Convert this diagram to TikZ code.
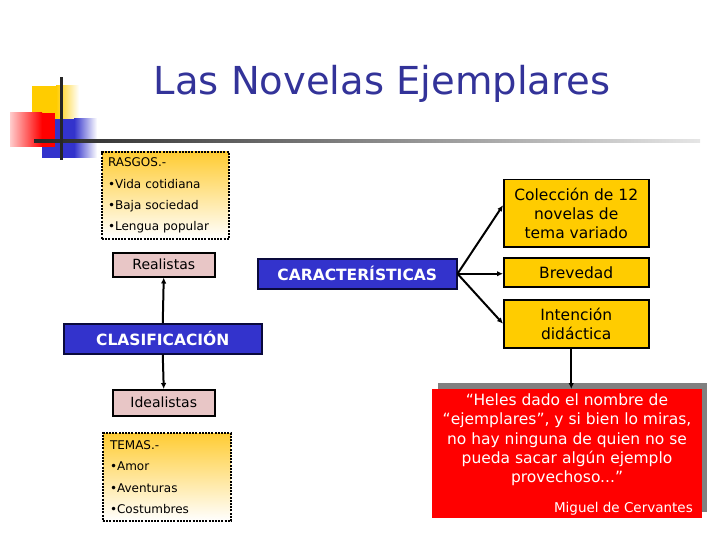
\documentclass[tikz,border=0pt]{standalone}
\usepackage{fontspec}
\setmainfont{DejaVu Sans}
\usetikzlibrary{arrows.meta}
\definecolor{titleblue}{RGB}{51,51,153}
\definecolor{boxblue}{RGB}{51,51,204}
\definecolor{gold}{RGB}{255,204,0}
\definecolor{pinkbox}{RGB}{232,198,198}
\definecolor{qred}{RGB}{255,0,0}
\definecolor{navy}{RGB}{10,10,60}
\begin{document}
\begin{tikzpicture}[x=1pt,y=-1pt,
  bluebox/.style={draw=navy, line width=1.5pt, fill=boxblue, text=white,
    font=\bfseries\fontsize{15.5}{18}\selectfont, inner sep=0pt, anchor=north west},
  pinkbx/.style={draw=black, line width=1.5pt, fill=pinkbox,
    font=\fontsize{14}{17}\selectfont, inner sep=0pt, anchor=north west},
  goldbox/.style={draw=black, line width=1.5pt, fill=gold, align=center,
    font=\fontsize{15.5}{19}\selectfont, inner sep=0pt, anchor=north west},
  dotbox/.style={draw=black, line width=2pt, dash pattern=on 2pt off 1.2pt,
    top color={rgb,255:red,255;green,204;blue,51}, bottom color=white,
    align=left, font=\fontsize{12}{21.3}\selectfont, inner ysep=0pt, anchor=north west},
  arr/.style={line width=2pt, -{Latex[length=6pt,width=5.5pt]}}
]
\useasboundingbox (0,0) rectangle (720,540);
% decoration
\fill[gold] (32,86) rectangle (56,124);
\shade[left color=gold, right color=white] (56,86) rectangle (79,124);
\fill[boxblue] (42,119) rectangle (74,158);
\shade[left color=boxblue, right color=white] (74,119) rectangle (97,158);
\shade[left color=qred!20, right color=qred] (10,113) rectangle (42,147);
\fill[qred] (42,113) rectangle (55,147);
\shade[left color=black!85, right color=black!10] (34,139.5) rectangle (700,142.5);
\fill[black!85] (59.5,77) rectangle (62.5,160);
% title
\node[anchor=base, text=titleblue, font=\fontsize{38.5}{40}\selectfont, inner sep=0pt] (title) at (382,95) {Las Novelas Ejemplares};
% left column
\node[dotbox, text width=115pt, inner xsep=6pt, minimum height=87pt] (rasgos) at (101,151)
  {RASGOS.-\\•Vida cotidiana\\•Baja sociedad\\•Lengua popular};
\node[pinkbx, minimum width=102pt, minimum height=24pt] (real) at (112,252) {Realistas};
\node[bluebox, minimum width=198pt, minimum height=30pt] (clas) at (63,323) {CLASIFICACIÓN};
\node[pinkbx, minimum width=102pt, minimum height=26pt] (ideal) at (112,389) {Idealistas};
\node[dotbox, text width=114pt, inner xsep=7pt, minimum height=88pt] (temas) at (102,432)
  {TEMAS.-\\•Amor\\•Aventuras\\•Costumbres};
% middle
\node[bluebox, minimum width=199pt, minimum height=30pt] (car) at (257,258) {CARACTERÍSTICAS};
% right
\node[goldbox, minimum width=145pt, minimum height=67pt] (col) at (503,179) {Colección de 12\\novelas de\\tema variado};
\node[goldbox, minimum width=145pt, minimum height=29pt] (brev) at (503,257) {Brevedad};
\node[goldbox, minimum width=145pt, minimum height=48pt] (inte) at (503,299) {Intención\\didáctica};
% quote
\fill[black!50] (438,383) rectangle (707,512);
\node[fill=qred, minimum width=270pt, minimum height=129pt, inner sep=0pt, anchor=north west] (quote) at (432,389) {};
\node[text=white, align=center, font=\fontsize{15.5}{19.3}\selectfont, inner sep=0pt] (qtext) at (567,440)
  {“Heles dado el nombre de\\“ejemplares”, y si bien lo miras,\\no hay ninguna de quien no se\\pueda sacar algún ejemplo\\provechoso...”};
\node[text=white, font=\fontsize{13.5}{16}\selectfont, inner sep=0pt, anchor=base east] (author) at (693,512) {Miguel de Cervantes};
% connectors
\draw[arr] (clas.north) -- (real.south);
\draw[arr] (clas.south) -- (ideal.north);
\draw[arr] (car.east) -- ([yshift=8pt]col.west);
\draw[arr] (car.east) -- (car.east -| brev.west);
\draw[arr] (car.east) -- (inte.west);
\draw[arr] ([xshift=-5pt]inte.south) -- ([xshift=-5pt]inte.south |- quote.north);
\end{tikzpicture}
\end{document}
